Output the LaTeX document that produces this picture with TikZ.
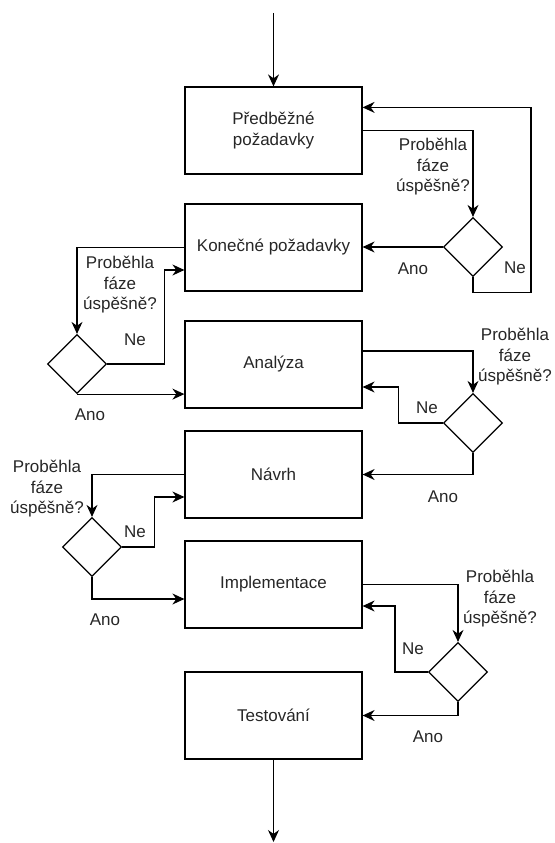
\documentclass[tikz,border=0pt]{standalone}
\usepackage{fontspec}
\setmainfont{Liberation Sans}
\usetikzlibrary{positioning,shapes.geometric,arrows.meta}
\begin{document}
\begin{tikzpicture}[x=1pt,y=-1pt,
    faze/.style={draw, line width=1.2pt, minimum width=177pt, minimum height=87pt, inner sep=0pt, align=center, text=black!85},
    rozhod/.style={draw, diamond, line width=1.2pt, minimum width=59pt, minimum height=59pt, inner sep=0pt},
    popis/.style={align=center, inner sep=0pt, text=black!85},
    sip/.style={-{Stealth[length=12pt,width=11pt]}, line width=1.2pt},
    every node/.style={font=\fontsize{17}{20.5}\selectfont}]
  \useasboundingbox (0,0) rectangle (554,843);
  \node[faze] (1) at (273.5,130.5) {Předběžné\\požadavky};
  \node[faze] (2) at (273.5,247.5) {Konečné požadavky};
  \node[faze] (3) at (273.5,364.5) {Analýza};
  \node[faze] (4) at (273.5,474.5) {Návrh};
  \node[faze] (5) at (273.5,584.5) {Implementace};
  \node[faze] (6) at (273.5,715.5) {Testování};
  \node[rozhod] (d1) at (473,247) {};
  \node[rozhod] (d2) at (77,364) {};
  \node[rozhod] (d3) at (473,423) {};
  \node[rozhod] (d4) at (92,547) {};
  \node[rozhod] (d5) at (458,672) {};
  \coordinate (start) at (273.5,13);
  \coordinate (konec) at (273.5,842);
  % otazky
  \node[popis] (q1) at (433,167) {Proběhla\\fáze\\úspěšně?};
  \node[popis] (q2) at (120,285) {Proběhla\\fáze\\úspěšně?};
  \node[popis] (q3) at (515,357) {Proběhla\\fáze\\úspěšně?};
  \node[popis] (q4) at (47,489) {Proběhla\\fáze\\úspěšně?};
  \node[popis] (q5) at (500,599) {Proběhla\\fáze\\úspěšně?};
  % odpovedi
  \node[popis] (a1) at (413,269) {Ano};
  \node[popis] (n1) at (515,268) {Ne};
  \node[popis] (a2) at (90,415) {Ano};
  \node[popis] (n2) at (135,340) {Ne};
  \node[popis] (a3) at (443,497) {Ano};
  \node[popis] (n3) at (427,408) {Ne};
  \node[popis] (a4) at (105,620) {Ano};
  \node[popis] (n4) at (135,532) {Ne};
  \node[popis] (a5) at (428,737) {Ano};
  \node[popis] (n5) at (413,649) {Ne};
  \draw[sip] (start) -- (1.north);
  \draw[sip] (1.east) -| (d1.north);
  \draw[sip] (d1.west) -- (d1.west -| 2.east);
  \draw[sip] (d1.south) -- ++(0,15) -- ++(58,0) |- ([yshift=-21pt]1.north east);
  \draw[sip] (2.west) -| (d2.north);
  \draw[sip] (d2.east) -- ++(57,0) |- ([yshift=-22.5pt]2.west);
  \draw[sip] (d2.south) -- (d2.south -| 3.west);
  \draw[sip] ([yshift=13.5pt]3.east) -| (d3.north);
  \draw[sip] (d3.west) -- ++(-44.5,0) |- ([yshift=-22.5pt]3.east);
  \draw[sip] (d3.south) |- (4.east);
  \draw[sip] (4.west) -| (d4.north);
  \draw[sip] (d4.east) -- ++(32,0) |- ([yshift=-22.5pt]4.west);
  \draw[sip] (d4.south) |- ([yshift=-14.5pt]5.west);
  \draw[sip] (5.east) -| (d5.north);
  \draw[sip] (d5.west) -- ++(-33,0) |- ([yshift=-21.5pt]5.east);
  \draw[sip] (d5.south) |- (6.east);
  \draw[sip] (6.south) -- (konec);
\end{tikzpicture}
\end{document}
